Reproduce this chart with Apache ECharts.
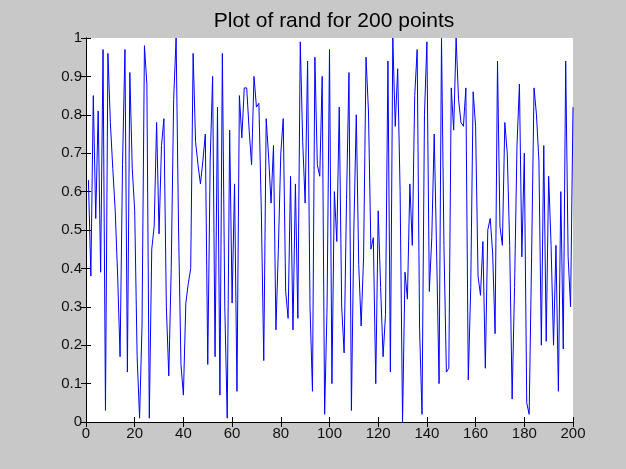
<!DOCTYPE html>
<html>
<head>
<meta charset="utf-8">
<script src="https://cdn.jsdelivr.net/npm/echarts@6/dist/echarts.min.js"></script>
<style>
html, body { margin: 0; padding: 0; background: #c8c8c8; }
#main { width: 626px; height: 469px; }
</style>
</head>
<body>
<div id="main"></div>
<script>
// values, one per sample (x = 1..200)
var randValues = [
    0.63, 0.38, 0.85, 0.53, 0.81, 0.39, 0.97, 0.03, 0.96, 0.78,
    0.66, 0.55, 0.38, 0.17, 0.67, 0.97, 0.13, 0.91, 0.66, 0.55,
    0.17, 0.01, 0.25, 0.98, 0.88, 0.01, 0.45, 0.51, 0.78, 0.49,
    0.72, 0.79, 0.30, 0.12, 0.40, 0.84, 1.00, 0.51, 0.15, 0.07,
    0.31, 0.36, 0.40, 0.96, 0.73, 0.67, 0.62, 0.68, 0.75, 0.15,
    0.68, 0.90, 0.17, 0.82, 0.07, 0.96, 0.30, 0.01, 0.76, 0.31,
    0.62, 0.08, 0.85, 0.74, 0.87, 0.87, 0.76, 0.67, 0.90, 0.82,
    0.83, 0.55, 0.16, 0.79, 0.69, 0.57, 0.72, 0.24, 0.45, 0.70,
    0.79, 0.34, 0.27, 0.64, 0.24, 0.62, 0.27, 0.99, 0.73, 0.57,
    0.94, 0.30, 0.08, 0.95, 0.67, 0.64, 0.90, 0.02, 0.30, 0.97,
    0.10, 0.60, 0.47, 0.82, 0.30, 0.18, 0.58, 0.91, 0.03, 0.50,
    0.80, 0.41, 0.25, 0.43, 0.95, 0.81, 0.45, 0.48, 0.10, 0.55,
    0.35, 0.17, 0.28, 0.94, 0.13, 1.00, 0.77, 0.92, 0.60, 0.00,
    0.39, 0.32, 0.62, 0.46, 0.85, 0.97, 0.24, 0.02, 0.80, 0.99,
    0.34, 0.48, 0.75, 0.44, 0.10, 1.00, 0.46, 0.13, 0.14, 0.87,
    0.76, 1.00, 0.84, 0.78, 0.77, 0.87, 0.11, 0.35, 0.86, 0.77,
    0.38, 0.33, 0.47, 0.14, 0.50, 0.53, 0.44, 0.23, 0.94, 0.51,
    0.46, 0.78, 0.70, 0.46, 0.06, 0.35, 0.72, 0.88, 0.43, 0.70,
    0.05, 0.02, 0.43, 0.87, 0.80, 0.68, 0.20, 0.72, 0.21, 0.64,
    0.46, 0.20, 0.46, 0.08, 0.60, 0.19, 0.94, 0.43, 0.30, 0.82
];

var xTicks = [0, 20, 40, 60, 80, 100, 120, 140, 160, 180, 200];
var yTicks = [0, 0.1, 0.2, 0.3, 0.4, 0.5, 0.6, 0.7, 0.8, 0.9, 1];

var points = randValues.map(function (v, i) { return [i + 1, v]; });

var myChart = echarts.init(document.getElementById('main'));

var font = 'Liberation Sans, Arial, sans-serif';

function boxAxis(showLabel, pos, min, max, interval) {
    return {
        type: 'value',
        position: pos,
        min: min,
        max: max,
        interval: interval,
        axisLine: { show: true, lineStyle: { color: '#000', width: 1 } },
        axisTick: { show: true, inside: true, length: 5, lineStyle: { color: '#000' } },
        axisLabel: {
            show: showLabel,
            color: '#111',
            fontFamily: font,
            fontSize: 15,
            margin: 4
        },
        splitLine: { show: false }
    };
}

option = {
    backgroundColor: '#c8c8c8',
    animation: false,
    title: {
        text: 'Plot of rand for 200 points',
        left: 329,
        textAlign: 'center',
        top: 6,
        textStyle: {
            fontFamily: font,
            fontSize: 21,
            fontWeight: 'normal',
            color: '#000'
        }
    },
    grid: {
        left: 86,
        top: 38,
        width: 487,
        height: 384,
        show: true,
        backgroundColor: '#fff',
        borderWidth: 0
    },
    xAxis: [
        boxAxis(true, 'bottom', xTicks[0], xTicks[xTicks.length - 1], 20),
        boxAxis(false, 'top', xTicks[0], xTicks[xTicks.length - 1], 20)
    ],
    yAxis: [
        boxAxis(true, 'left', yTicks[0], yTicks[yTicks.length - 1], 0.1),
        boxAxis(false, 'right', yTicks[0], yTicks[yTicks.length - 1], 0.1)
    ],
    series: [{
        type: 'line',
        data: points,
        showSymbol: false,
        symbol: 'none',
        lineStyle: { color: '#0000ff', width: 1 },
        itemStyle: { color: '#0000ff' }
    }]
};

myChart.setOption(option);
</script>
</body>
</html>
